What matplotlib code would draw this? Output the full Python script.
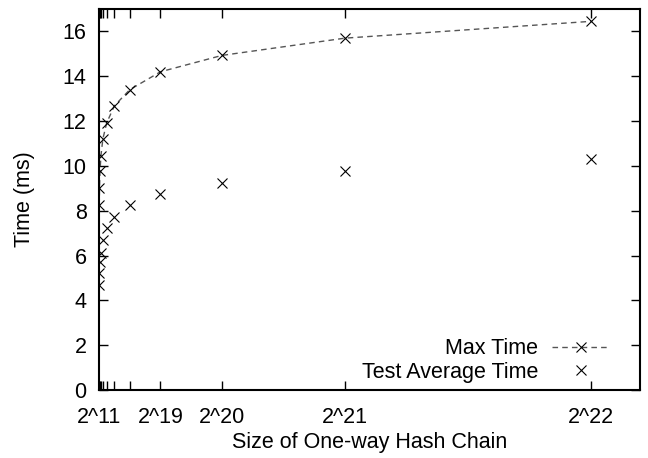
import numpy as np
import matplotlib
matplotlib.use("Agg")
import matplotlib.pyplot as plt

# chain sizes 2^11 .. 2^22
exps = list(range(11, 23))
sizes = [2 ** e for e in exps]
max_time = [8.25, 9.0, 9.75, 10.45, 11.2, 11.92, 12.68, 13.4, 14.2, 14.93, 15.7, 16.45]
avg_time = [4.7, 5.2, 5.7, 6.12, 6.71, 7.23, 7.7, 8.25, 8.76, 9.24, 9.76, 10.3]

tick_pos = sizes
tick_lab = ["2^11", "", "", "", "", "", "", "", "2^19", "2^20", "2^21", "2^22"]

plt.rcParams["font.family"] = ["Liberation Sans", "DejaVu Sans"]
plt.rcParams["font.size"] = 15.5

fig = plt.figure(figsize=(6.48, 4.58), dpi=100)
ax = fig.add_axes([0.1528, 0.1485, 0.8349, 0.8318])

ax.plot(sizes, max_time, color="#555555", linestyle=(0, (4, 3)), linewidth=1.0,
        marker="x", markersize=7, markeredgecolor="black", markeredgewidth=0.8,
        label="Max Time")
ax.plot(sizes, avg_time, linestyle="none", marker="x", markersize=7,
        markeredgecolor="black", markeredgewidth=0.8, label="Test Average Time")

ax.set_xlim(0, 1.1 * 2 ** 22)
ax.set_ylim(0, 17)
ax.set_xticks(tick_pos)
ax.set_xticklabels(tick_lab)
ax.set_yticks(np.arange(0, 17, 2))

ax.tick_params(direction="in", length=6.5, width=1, top=True, right=True)
ax.tick_params(axis="y", pad=9)
ax.tick_params(axis="x", pad=12)
for s in ax.spines.values():
    s.set_linewidth(1.5)

ax.set_xlabel("Size of One-way Hash Chain", labelpad=3)
ax.set_ylabel("Time (ms)", labelpad=20)

ax.legend(loc="lower right", bbox_to_anchor=(0.959, -0.004), frameon=False,
          markerfirst=False, handlelength=2.65, handletextpad=0.65,
          labelspacing=0.12, borderaxespad=0)

fig.savefig("out.png", dpi=100)
